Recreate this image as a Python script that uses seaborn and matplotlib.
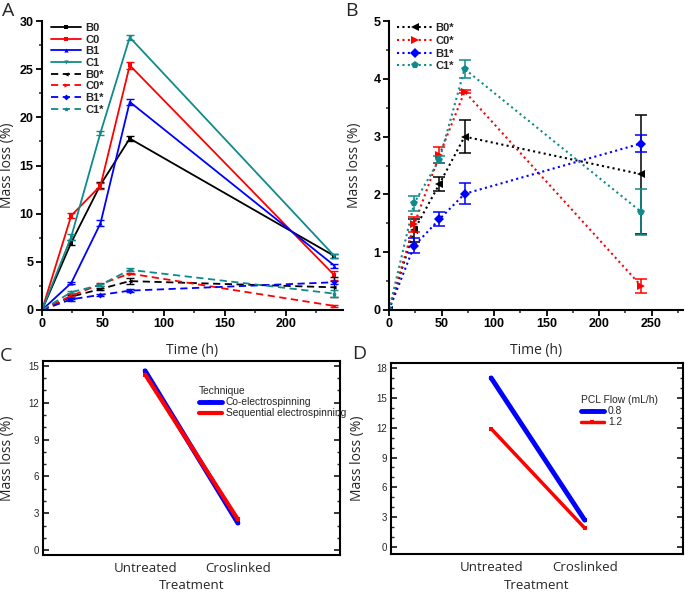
import numpy as np
import pandas as pd
import matplotlib
matplotlib.use("Agg")
import matplotlib.pyplot as plt
import seaborn as sns
from matplotlib.ticker import MultipleLocator

sns.set_theme(style="ticks")
plt.rcParams["font.family"] = ["Liberation Sans", "DejaVu Sans"]

# ---------------- data ----------------
time_h = [0, 24, 48, 72, 240]

# panel A, solid series
b0 = [0, 7.0, 13.0, 17.8, 5.6]
c0 = [0, 9.8, 12.9, 25.4, 3.6]
b1 = [0, 2.8, 9.0, 21.6, 4.6]
c1 = [0, 7.6, 18.4, 28.3, 5.6]
b0_err = [0, 0.25, 0.3, 0.3, 0.25]
c0_err = [0, 0.3, 0.3, 0.35, 0.5]
b1_err = [0, 0.15, 0.3, 0.3, 0.2]
c1_err = [0, 0.3, 0.2, 0.25, 0.2]

# starred series (panel A dashed, panel B dotted)
b0s = [0, 1.38, 2.18, 3.0, 2.35]
c0s = [0, 1.48, 2.68, 3.78, 0.42]
b1s = [0, 1.11, 1.57, 2.01, 2.88]
c1s = [0, 1.85, 2.60, 4.17, 1.70]
b0s_err = [0, 0.2, 0.12, 0.29, 1.03]
c0s_err = [0, 0.13, 0.14, 0.03, 0.12]
b1s_err = [0, 0.13, 0.12, 0.18, 0.14]
c1s_err = [0, 0.13, 0.06, 0.15, 0.40]

# panels C and D
treatments = ["Untreated", "Croslinked"]
techniques = ["Co-electrospinning", "Sequential electrospinning"]
tech_loss = [[14.6, 2.2], [14.3, 2.5]]
pcl_flows = ["0.8", "1.2"]
flow_loss = [[17.0, 2.7], [11.9, 1.9]]

BLACK, RED, BLUE, TEAL = "black", "#ff0000", "#0000ff", "#108a8a"

fig = plt.figure(figsize=(6.85, 5.93), dpi=100)
W, H = 685, 593


def px_axes(l, t, r, b):
    return fig.add_axes([l / W, 1 - b / H, (r - l) / W, (b - t) / H])


lab_font = dict(family=["Open Sans", "DejaVu Sans"], size=10)
cat_font = dict(family=["Open Sans", "DejaVu Sans"], size=9.5)
small_font = ["Liberation Sans", "DejaVu Sans"]


def style_time_axis(ax, xmax, ymax, ymaj, ymin, ylab_x):
    sns.despine(ax=ax)
    for s in ["left", "bottom"]:
        ax.spines[s].set_linewidth(1.5)
        ax.spines[s].set_color("black")
    ax.set_xlim(0, xmax)
    ax.set_ylim(0, ymax)
    ax.xaxis.set_major_locator(MultipleLocator(50))
    ax.xaxis.set_minor_locator(MultipleLocator(25))
    ax.yaxis.set_major_locator(MultipleLocator(ymaj))
    ax.yaxis.set_minor_locator(MultipleLocator(ymin))
    ax.tick_params(which="major", direction="out", length=4, width=1.3,
                   labelsize=9, pad=2, colors="black")
    ax.tick_params(which="minor", direction="out", length=2.5, width=1.1)
    for lab in ax.get_xticklabels() + ax.get_yticklabels():
        lab.set_fontweight("bold")
    ax.set_xlabel("Time (h)", labelpad=9, **lab_font)
    ax.set_ylabel("Mass loss (%)", **lab_font)
    ax.yaxis.set_label_coords(ylab_x, 0.5)
    ax.grid(False)


# ---------------- panel A ----------------
axA = px_axes(42, 21, 343, 310)
seriesA = [
    ("B0", b0, b0_err, BLACK, "-", "s"),
    ("C0", c0, c0_err, RED, "-", "s"),
    ("B1", b1, b1_err, BLUE, "-", "^"),
    ("C1", c1, c1_err, TEAL, "-", "v"),
    ("B0*", b0s, b0s_err, BLACK, (0, (4, 2.5)), "<"),
    ("C0*", c0s, c0s_err, RED, (0, (4, 2.5)), ">"),
    ("B1*", b1s, b1s_err, BLUE, (0, (4, 2.5)), "D"),
    ("C1*", c1s, c1s_err, TEAL, (0, (4, 2.5)), "p"),
]
for name, vals, err, col, ls, mk in seriesA:
    sns.lineplot(x=time_h, y=vals, ax=axA, color=col, linestyle=ls, lw=1.3,
                 marker=mk, markersize=3, markeredgewidth=0, label=name)
    axA.errorbar(time_h, vals, yerr=err, fmt="none", ecolor=col,
                 elinewidth=1, capsize=3, capthick=1)
style_time_axis(axA, 247, 30, 5, 2.5, -0.09)
axA.legend(loc="upper left", bbox_to_anchor=(0.005, 1.02), frameon=False,
           prop=dict(weight="bold", size=8), handlelength=2.7,
           handletextpad=0.35, labelspacing=0.15, borderpad=0.2)

# ---------------- panel B ----------------
axB = px_axes(389, 21, 683, 310)
seriesB = [
    ("B0*", b0s, b0s_err, BLACK, "<"),
    ("C0*", c0s, c0s_err, RED, ">"),
    ("B1*", b1s, b1s_err, BLUE, "D"),
    ("C1*", c1s, c1s_err, TEAL, "p"),
]
for name, vals, err, col, mk in seriesB:
    sns.lineplot(x=time_h, y=vals, ax=axB, color=col, linestyle=(0, (1, 1.6)),
                 lw=1.5, marker=mk, markersize=5.5, markeredgewidth=0, label=name)
    axB.errorbar(time_h, vals, yerr=err, fmt="none", ecolor=col,
                 elinewidth=1.1, capsize=4, capthick=1.1)
style_time_axis(axB, 280, 5, 1, 0.5, -0.092)
axB.legend(loc="upper left", bbox_to_anchor=(0.0, 1.02), frameon=False,
           prop=dict(weight="bold", size=8), handlelength=3.3,
           handletextpad=0.2, labelspacing=0.25, borderpad=0.2)


# ---------------- panels C and D ----------------
def interaction_panel(ax, groups, losses, widths, title, ylim, ymax_tick, xlim,
                      leg_anchor, ylab_x, xlab_y):
    xpos = list(range(len(treatments)))
    for g, vals, col, lw in zip(groups, losses, [BLUE, RED], widths):
        sns.lineplot(x=xpos, y=vals, ax=ax, color=col, lw=lw, marker="s",
                     markersize=3.5, markeredgewidth=0, label=g)
    ax.set_xlim(*xlim)
    ax.set_ylim(*ylim)
    ax.set_xticks(xpos)
    ax.set_xticklabels(treatments, **cat_font)
    ax.yaxis.set_minor_locator(MultipleLocator(1))
    ax.set_yticks(np.arange(0, ymax_tick + 1, 3))
    for s in ax.spines.values():
        s.set_linewidth(1.5)
        s.set_color("black")
    ax.tick_params(axis="x", length=0, pad=5)
    ax.tick_params(axis="y", which="major", direction="in", length=4, width=1.3,
                   left=True, right=True, labelsize=7, pad=3)
    ax.tick_params(axis="y", which="minor", direction="in", length=2, width=1,
                   left=True, right=True)
    ax.set_xlabel("Treatment", **cat_font)
    ax.xaxis.set_label_coords(0.5, xlab_y)
    ax.set_ylabel("Mass loss (%)", **lab_font)
    ax.yaxis.set_label_coords(ylab_x, 0.5)
    ax.grid(False)
    leg = ax.legend(title=title, loc="upper left", bbox_to_anchor=leg_anchor,
                    bbox_transform=fig.transFigure, frameon=False,
                    prop=dict(family=small_font, size=7.4),
                    title_fontproperties=dict(family=small_font, size=7.4),
                    handlelength=2.2, handletextpad=0.4, labelspacing=0.1,
                    borderpad=0, alignment="left")
    return leg


axC = px_axes(43, 361, 340, 555)
interaction_panel(axC, techniques, tech_loss, [3.5, 3.0], "Technique",
                  (-0.4, 15.4), 15, (-1.1, 2.1), (194 / W, 1 - 381 / H),
                  -0.094, -0.125)
axD = px_axes(391, 363, 683, 554)
interaction_panel(axD, pcl_flows, flow_loss, [3.5, 2.5], "PCL Flow (mL/h)",
                  (-0.7, 18.5), 18, (-1.07, 2.05), (576 / W, 1 - 390 / H),
                  -0.089, -0.13)

# panel letters
for letter, x, y in [("A", 2, 2), ("B", 345, 2), ("C", 0, 347), ("D", 352, 345)]:
    fig.text(x / W, 1 - y / H, letter, ha="left", va="top", fontsize=14,
             family=["Open Sans", "DejaVu Sans"])

fig.savefig("out.png", dpi=100)
